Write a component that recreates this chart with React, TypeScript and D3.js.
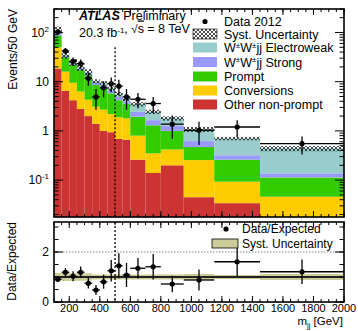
import React from 'react';
import * as d3 from 'd3';

const FONT = '"Liberation Sans", Arial, Helvetica, sans-serif';

// m_jj bin edges [GeV]
const binEdges = [100, 150, 200, 250, 300, 350, 400, 450, 500, 550, 600, 700, 800, 950, 1150, 1450, 2000];

// Events / 50 GeV, stacked bottom to top
const otherNonPrompt = [18.5, 6.5, 4.2, 2.8, 2.0, 1.4, 1.0, 0.94, 0.69, 0.66, 0.26, 0.14, 0.2, 0.045, 0.034, 0.005];
const conversions = [31.5, 9.5, 5.3, 3.5, 2.3, 1.7, 1.7, 1.26, 1.21, 1.14, 0.54, 0.21, 0.22, 0.21, 0.059, 0.041];
const prompt = [37, 15.5, 12.5, 10.9, 9.2, 5.5, 4.9, 3.6, 2.3, 1.8, 1.15, 0.95, 0.58, 0.215, 0.167, 0.067];
const wwStrong = [13, 2.0, 1.6, 1.3, 1.1, 0.8, 0.8, 0.7, 0.7, 0.4, 0.5, 0.35, 0.28, 0.15, 0.06, 0.024];
const wwEW = [13, 1.5, 1.4, 1.1, 1.0, 0.8, 0.9, 0.8, 0.7, 0.5, 1.05, 0.8, 0.52, 0.46, 0.38, 0.303];
const systRel = [0.16, 0.16, 0.16, 0.15, 0.15, 0.1, 0.1, 0.1, 0.1, 0.1, 0.1, 0.1, 0.1, 0.12, 0.08, 0.12];

const data2012 = [103, 42, 26, 23.3, 11.7, 4.9, 7.5, 9.1, 8.1, 4.9, 4.4, 3.6, 1.37, 1.03, 1.2, 0.55];
const data2012Err = [10, 6.5, 5.1, 4.8, 3.4, 2.2, 2.7, 3.0, 2.8, 2.2, 1.5, 1.3, 0.68, 0.51, 0.45, 0.22];

const ratio = [0.91, 1.19, 1.03, 1.19, 0.75, 0.48, 0.81, 1.25, 1.45, 1.08, 1.35, 1.41, 0.72, 0.88, 1.61, 1.21];
const ratioErr = [0.11, 0.17, 0.2, 0.23, 0.21, 0.2, 0.28, 0.43, 0.5, 0.48, 0.41, 0.51, 0.33, 0.42, 0.57, 0.49];

const xTickLabels = [200, 400, 600, 800, 1000, 1200, 1400, 1600, 1800, 2000];
const yTopTicks = [0.1, 1, 10, 100];
const yBotTickLabels = [0, 2];

const keys = ['other', 'conv', 'prompt', 'strong', 'ew'];
const colors: Record<string, string> = {
  other: '#cc3333', conv: '#ffcc00', prompt: '#33cc00', strong: '#9999ff', ew: '#99cccc',
};
const legendItems = [
  { key: 'ew', label: 'Electroweak' },
  { key: 'strong', label: 'Strong' },
  { key: 'prompt', label: 'Prompt' },
  { key: 'conv', label: 'Conversions' },
  { key: 'other', label: 'Other non-prompt' },
];

const L = 54, R = 344;
const TOP0 = 9, TOP1 = 217;
const BOT0 = 222, BOT1 = 302;

export default function App() {
  const x = d3.scaleLinear().domain([100, 2000]).range([L, R]);
  const yT = d3.scaleLog().domain([0.0178, 300]).range([TOP1, TOP0]);
  const yB = d3.scaleLinear().domain([0, 3.2]).range([BOT1, BOT0]);

  const table = binEdges.slice(0, -1).map((lo, i) => ({
    lo, hi: binEdges[i + 1],
    other: otherNonPrompt[i], conv: conversions[i], prompt: prompt[i], strong: wwStrong[i], ew: wwEW[i],
  }));
  const series = d3.stack<any>().keys(keys)(table);
  const totals = table.map(d => d.other + d.conv + d.prompt + d.strong + d.ew);

  const yb = (v: number) => (v > 0 ? Math.min(yT(v), TOP1) : TOP1);

  // ticks
  const minorX = d3.range(100, 2001, 50);
  const majorX = xTickLabels;
  const logMinor: number[] = [];
  [-2, -1, 0, 1, 2].forEach(e => d3.range(1, 10).forEach(k => {
    const v = k * Math.pow(10, e);
    if (v >= 0.0178 && v <= 300 && k !== 1) logMinor.push(v);
  }));
  const botMinor = d3.range(0, 3.01, 0.5);

  const tickLines: JSX.Element[] = [];
  const tl = (x1: number, y1: number, x2: number, y2: number) =>
    tickLines.push(<line key={tickLines.length} x1={x1} y1={y1} x2={x2} y2={y2} stroke="#000" strokeWidth={1} />);
  // top panel y ticks
  yTopTicks.forEach(v => { tl(L, yT(v), L + 9, yT(v)); tl(R, yT(v), R - 9, yT(v)); });
  logMinor.forEach(v => { tl(L, yT(v), L + 4.5, yT(v)); tl(R, yT(v), R - 4.5, yT(v)); });
  // top panel x ticks
  majorX.forEach(v => { tl(x(v), TOP1, x(v), TOP1 - 6); tl(x(v), TOP0, x(v), TOP0 + 6); });
  minorX.forEach(v => { tl(x(v), TOP1, x(v), TOP1 - 3); tl(x(v), TOP0, x(v), TOP0 + 3); });
  // bottom panel
  yBotTickLabels.forEach(v => { tl(L, yB(v), L + 9, yB(v)); tl(R, yB(v), R - 9, yB(v)); });
  botMinor.forEach(v => { tl(L, yB(v), L + 4.5, yB(v)); tl(R, yB(v), R - 4.5, yB(v)); });
  majorX.forEach(v => { tl(x(v), BOT1, x(v), BOT1 - 6); tl(x(v), BOT0, x(v), BOT0 + 6); });
  minorX.forEach(v => { tl(x(v), BOT1, x(v), BOT1 - 3); tl(x(v), BOT0, x(v), BOT0 + 3); });

  const yTopLabel = (v: number) => {
    if (v === 1) return <tspan>1</tspan>;
    if (v === 10) return <tspan>10</tspan>;
    const e = Math.round(Math.log10(v));
    return <><tspan>10</tspan><tspan fontSize={8} dy={-5}>{e === -1 ? '-1' : String(e)}</tspan></>;
  };

  const sup = (s: string) => <tspan fontSize={8} dy={-4.5}>{s}</tspan>;
  const back = <tspan dy={4.5}></tspan>;

  const legY = [21.5, 34, 47.5, 62, 76.5, 90.5, 104.5];

  return (
    <svg width={358} height={331} style={{ position: 'absolute', left: 0, top: 0, background: '#fff' }}
      fontFamily={FONT}>
      <defs>
        <clipPath id="cTop"><rect x={L} y={TOP0} width={R - L} height={TOP1 - TOP0} /></clipPath>
        <clipPath id="cBot"><rect x={L} y={BOT0} width={R - L} height={BOT1 - BOT0} /></clipPath>
        <pattern id="hatch" width={4} height={4} patternUnits="userSpaceOnUse">
          <path d="M0,0 L4,4 M4,0 L0,4" stroke="#000" strokeWidth={0.7} />
        </pattern>
      </defs>
      <rect x={0} y={0} width={358} height={331} fill="#fff" />

      {/* top panel */}
      <g clipPath="url(#cTop)">
        {series.map(s => (
          <g key={s.key} fill={colors[s.key]}>
            {s.map((d: any, i: number) => (
              <rect key={i} x={x(d.data.lo)} width={x(d.data.hi) - x(d.data.lo)}
                y={yT(d[1])} height={Math.max(0, yb(d[0]) - yT(d[1]))} />
            ))}
          </g>
        ))}
        {table.map((d, i) => (
          <rect key={i} x={x(d.lo)} width={x(d.hi) - x(d.lo)} y={yT(totals[i] * (1 + systRel[i]))}
            height={yT(totals[i] * (1 - systRel[i])) - yT(totals[i] * (1 + systRel[i]))} fill="url(#hatch)" />
        ))}
        <line x1={x(500)} x2={x(500)} y1={yT(50)} y2={TOP1} stroke="#000" strokeWidth={1.3} strokeDasharray="2 2" />
        {table.map((d, i) => {
          const cx = x((d.lo + d.hi) / 2), cy = yT(data2012[i]);
          return (
            <g key={i} stroke="#000" strokeWidth={1.3}>
              <line x1={x(d.lo)} x2={x(d.hi)} y1={cy} y2={cy} />
              <line x1={cx} x2={cx} y1={yT(data2012[i] + data2012Err[i])} y2={yb(data2012[i] - data2012Err[i])} />
              <circle cx={cx} cy={cy} r={2.6} fill="#000" stroke="none" />
            </g>
          );
        })}
      </g>

      {/* bottom panel */}
      <g clipPath="url(#cBot)">
        {table.map((d, i) => (
          <rect key={i} x={x(d.lo)} width={x(d.hi) - x(d.lo)} y={yB(1 + systRel[i])}
            height={yB(1 - systRel[i]) - yB(1 + systRel[i])} fill="#cccc99" />
        ))}
        <line x1={L} x2={R} y1={yB(1)} y2={yB(1)} stroke="#222" strokeWidth={2} />
        <line x1={L} x2={R} y1={yB(2)} y2={yB(2)} stroke="#888" strokeWidth={1.2} strokeDasharray="1.5 1.5" />
        <line x1={x(500)} x2={x(500)} y1={BOT0} y2={BOT1} stroke="#000" strokeWidth={1.3} strokeDasharray="2 2" />
        {table.map((d, i) => {
          const cx = x((d.lo + d.hi) / 2), cy = yB(ratio[i]);
          return (
            <g key={i} stroke="#000" strokeWidth={1.3}>
              <line x1={x(d.lo)} x2={x(d.hi)} y1={cy} y2={cy} />
              <line x1={cx} x2={cx} y1={yB(ratio[i] + ratioErr[i])} y2={yB(ratio[i] - ratioErr[i])} />
              <circle cx={cx} cy={cy} r={2.6} fill="#000" stroke="none" />
            </g>
          );
        })}
      </g>

      {tickLines}
      <rect x={L} y={TOP0} width={R - L} height={TOP1 - TOP0} fill="none" stroke="#000" strokeWidth={1.6} />
      <rect x={L} y={BOT0} width={R - L} height={BOT1 - BOT0} fill="none" stroke="#000" strokeWidth={1.6} />

      {/* tick labels */}
      {yTopTicks.map(v => (
        <text key={v} x={49} y={yT(v)} dy="0.36em" textAnchor="end" fontSize={12}>{yTopLabel(v)}</text>
      ))}
      {yBotTickLabels.map(v => (
        <text key={v} x={49} y={yB(v)} dy="0.36em" textAnchor="end" fontSize={12}>{v}</text>
      ))}
      {xTickLabels.map(v => (
        <text key={v} x={x(v)} y={311.5} textAnchor="middle" fontSize={11}>{v}</text>
      ))}

      {/* axis titles */}
      <text transform={`translate(17,${TOP0}) rotate(-90)`} textAnchor="end" fontSize={12}>Events/50 GeV</text>
      <text transform={`translate(16,${BOT0}) rotate(-90)`} textAnchor="end" fontSize={12}>Data/Expected</text>
      <text x={343} y={325} textAnchor="end" fontSize={11.5}>m<tspan fontSize={7.5} dy={2.5}>jj</tspan><tspan dy={-2.5}> [GeV]</tspan></text>

      {/* ATLAS label */}
      <text x={79} y={20} fontSize={12.5}>
        <tspan fontWeight="bold" fontStyle="italic">ATLAS</tspan><tspan> Preliminary</tspan>
      </text>
      <text x={79} y={37} fontSize={12.5}>
        20.3 fb{sup('-1')}{back}, <tspan fontSize={11.5}>√</tspan><tspan textDecoration="overline">s</tspan> =  8 TeV
      </text>

      {/* top legend */}
      <circle cx={205} cy={legY[0]} r={2.6} fill="#000" />
      <text x={224} y={legY[0]} dy="0.36em" fontSize={12.5}>Data 2012</text>
      <rect x={193} y={legY[1] - 5} width={24} height={10} fill="url(#hatch)" stroke="#000" strokeWidth={0.6} />
      <text x={224} y={legY[1]} dy="0.36em" fontSize={12.5}>Syst. Uncertainty</text>
      {legendItems.map((it, i) => (
        <g key={it.key}>
          <rect x={193} y={legY[i + 2] - 5} width={24} height={10} fill={colors[it.key]} />
          <text x={224} y={legY[i + 2]} dy="0.36em" fontSize={12.5}>
            {it.key === 'ew' || it.key === 'strong'
              ? <>W{sup('±')}<tspan dy={4.5}>W</tspan>{sup('±')}<tspan dy={4.5}>jj {it.label}</tspan></>
              : it.label}
          </text>
        </g>
      ))}

      {/* bottom legend */}
      <circle cx={226} cy={229} r={2.6} fill="#000" />
      <text x={242} y={229} dy="0.36em" fontSize={12}>Data/Expected</text>
      <rect x={212} y={239} width={26} height={9} fill="#cccc99" stroke="#000" strokeWidth={0.8} />
      <text x={242} y={243.5} dy="0.36em" fontSize={12}>Syst. Uncertainty</text>
    </svg>
  );
}
